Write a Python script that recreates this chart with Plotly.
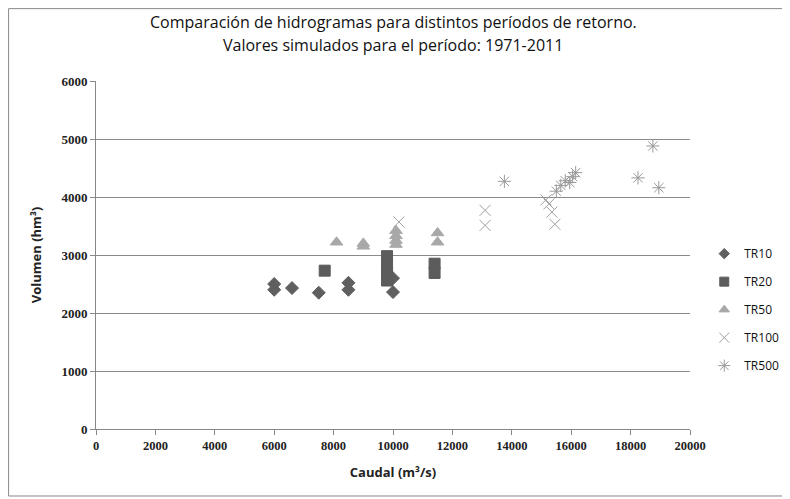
import plotly.graph_objects as go

tr10_x = [6000, 6000, 6600, 7500, 8500, 8500, 10000, 10000]
tr10_y = [2500, 2400, 2430, 2350, 2520, 2400, 2600, 2360]
tr20_x = [7700, 9800, 9800, 9800, 9800, 11400, 11400]
tr20_y = [2730, 2980, 2820, 2680, 2560, 2850, 2690]
tr50_x = [8100, 9000, 9000, 10100, 10100, 10100, 10100, 11500, 11500]
tr50_y = [3220, 3200, 3150, 3420, 3330, 3250, 3180, 3380, 3220]
tr100_x = [10200, 13100, 13100, 15150, 15250, 15350, 15450]
tr100_y = [3570, 3770, 3510, 3950, 3880, 3740, 3530]
tr500_x = [13750, 15500, 15650, 15800, 15950, 16050, 16150, 18250, 18750, 18950]
tr500_y = [4270, 4100, 4200, 4280, 4250, 4350, 4420, 4330, 4880, 4160]

x_ticks = list(range(0, 20001, 2000))
y_ticks = list(range(0, 6001, 1000))

title_line1 = "Comparación de hidrogramas para distintos períodos de retorno."
title_line2 = "Valores simulados para el período: 1971-2011"

series = [
    ("TR10", tr10_x, tr10_y, "diamond", 10, "#5f5f5f", 8),
    ("TR20", tr20_x, tr20_y, "square", 11, "#5c5c5c", 9),
    ("TR50", tr50_x, tr50_y, "triangle-up", 11, "#a8a8a8", 9),
    ("TR100", tr100_x, tr100_y, "x-thin-open", 11, "#a0a0a0", 10),
    ("TR500", tr500_x, tr500_y, "asterisk-open", 11, "#999999", 10),
]

fig = go.Figure()
for name, xs, ys, sym, sz, col, lsz in series:
    fig.add_trace(go.Scatter(
        x=xs, y=ys, mode="markers", name=name, legendgroup=name,
        showlegend=False,
        marker=dict(symbol=sym, size=sz, color=col,
                    line=dict(color=col, width=1)),
    ))
for name, xs, ys, sym, sz, col, lsz in series:
    fig.add_trace(go.Scatter(
        x=[None], y=[None], mode="markers", name=name, legendgroup=name,
        showlegend=True,
        marker=dict(symbol=sym, size=lsz, color=col,
                    line=dict(color=col, width=1)),
    ))

tick_font = dict(family="Liberation Serif", size=12.5, color="#222")
ytick_font = dict(family="Liberation Serif", size=13, color="#222")
axis_title_font = dict(family="Open Sans", size=13, color="#222")

fig.update_layout(
    width=782, height=491,
    paper_bgcolor="white", plot_bgcolor="white",
    margin=dict(l=88, r=100, t=73, b=70, autoexpand=False),
    font=dict(family="Open Sans", color="#222"),
    legend=dict(x=1.024, y=0.343, xanchor="left", yanchor="middle",
                font=dict(size=12, color="#111"), tracegroupgap=9,
                itemwidth=30, bgcolor="rgba(0,0,0,0)"),
    xaxis=dict(
        range=[0, 20000], tickmode="array", tickvals=x_ticks,
        ticktext=["<b>%d</b>" % v for v in x_ticks],
        showgrid=False, showline=True, linecolor="#888", linewidth=1,
        ticks="outside", ticklen=5, tickcolor="#888",
        tickfont=tick_font,
        title=dict(text="<b>Caudal (m³/s)</b>", font=axis_title_font, standoff=15),
        zeroline=False,
    ),
    yaxis=dict(
        range=[0, 6000], tickmode="array", tickvals=y_ticks,
        ticktext=["<b>%d</b>" % v for v in y_ticks],
        showgrid=True, gridcolor="#8a8a8a", gridwidth=1,
        showline=True, linecolor="#888", linewidth=1,
        ticks="outside", ticklen=5, tickcolor="#888",
        tickfont=ytick_font,
        title=dict(text="<b>Volumen (hm³)</b>", font=axis_title_font, standoff=16),
        zeroline=False,
    ),
    annotations=[
        dict(text=title_line1, xref="paper", yref="paper", x=0.5, y=1.1695,
             xanchor="center", yanchor="middle", showarrow=False,
             font=dict(family="Open Sans", size=16, color="#111")),
        dict(text=title_line2, xref="paper", yref="paper", x=0.5, y=1.1034,
             xanchor="center", yanchor="middle", showarrow=False,
             font=dict(family="Open Sans", size=16, color="#111")),
    ],
)

fig.add_shape(type="rect", xref="paper", yref="paper",
              x0=-88 / 594 + 0.001, x1=690 / 594, y0=-0.1925, y1=1.208,
              line=dict(color="#888", width=1), fillcolor="rgba(0,0,0,0)")

fig.write_html("out.html")
